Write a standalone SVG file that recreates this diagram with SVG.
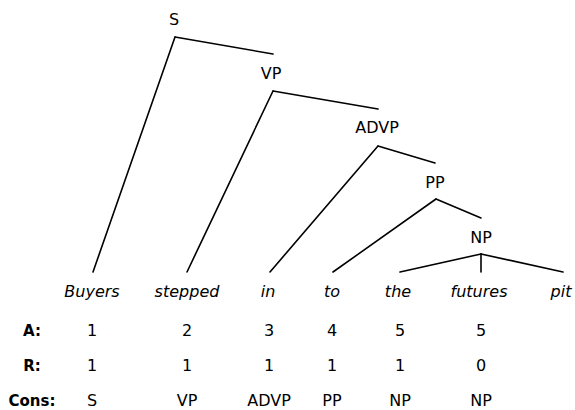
<svg xmlns="http://www.w3.org/2000/svg" width="575" height="410" viewBox="0 0 575 410">
<style>
text{font-family:"DejaVu Sans","Liberation Sans",sans-serif;font-size:16px;fill:#000;text-anchor:middle}
.w{font-style:italic;font-size:17px}
.h{font-weight:bold;font-size:15px}
.c line{stroke:#000;stroke-width:1.6;stroke-linecap:round}
</style>
<rect width="575" height="410" fill="#fff"/>
<g class="c" id="connectors">
<line x1="175" y1="37" x2="273" y2="54"/>
<line x1="175" y1="37" x2="93" y2="272"/>
<line x1="273" y1="91" x2="378" y2="109"/>
<line x1="273" y1="91" x2="187" y2="272"/>
<line x1="378" y1="146" x2="435" y2="163"/>
<line x1="378" y1="146" x2="270" y2="272"/>
<line x1="436" y1="199" x2="481" y2="218"/>
<line x1="436" y1="199" x2="333" y2="272"/>
<line x1="481" y1="254" x2="400" y2="272"/>
<line x1="481" y1="254" x2="481" y2="272"/>
<line x1="481" y1="254" x2="563" y2="272"/>
</g>
<g id="S"><text x="174" y="25">S</text></g>
<g id="VP"><text x="271" y="79">VP</text></g>
<g id="ADVP"><text x="377" y="133">ADVP</text></g>
<g id="PP"><text x="435" y="188">PP</text></g>
<g id="NP"><text x="481" y="243">NP</text></g>
<g id="words" class="w">
<text x="92" y="297">Buyers</text>
<text x="187" y="297">stepped</text>
<text x="268" y="297">in</text>
<text x="332" y="297">to</text>
<text x="398" y="297">the</text>
<text x="479" y="297">futures</text>
<text x="561" y="297">pit</text>
</g>
<g id="rowA">
<text class="h" x="32" y="336">A:</text>
<text x="92" y="336">1</text><text x="187" y="336">2</text><text x="269" y="336">3</text><text x="332" y="336">4</text><text x="400" y="336">5</text><text x="481" y="336">5</text>
</g>
<g id="rowR">
<text class="h" x="32" y="371">R:</text>
<text x="92" y="371">1</text><text x="187" y="371">1</text><text x="269" y="371">1</text><text x="332" y="371">1</text><text x="400" y="371">1</text><text x="481" y="371">0</text>
</g>
<g id="rowCons">
<text class="h" x="32" y="406">Cons:</text>
<text x="92" y="406">S</text><text x="187" y="406">VP</text><text x="269" y="406">ADVP</text><text x="332" y="406">PP</text><text x="400" y="406">NP</text><text x="481" y="406">NP</text>
</g>
</svg>
